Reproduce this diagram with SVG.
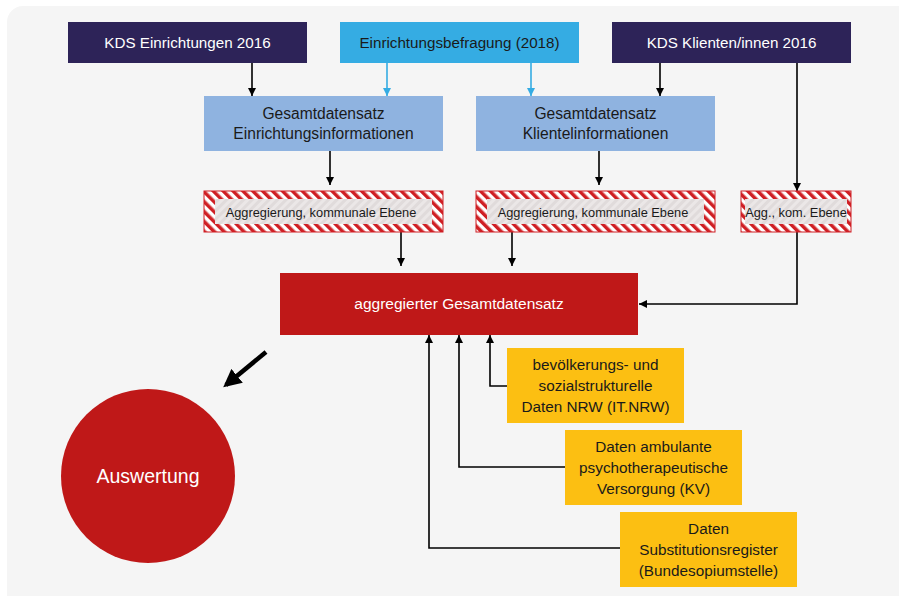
<svg xmlns="http://www.w3.org/2000/svg" width="899" height="596" viewBox="0 0 899 596">
<style>
text{font-family:"Liberation Sans",Arial,sans-serif;text-anchor:middle}
.t1{font-size:15.2px;fill:#ffffff}
.t2{font-size:15.2px;fill:#1a1a1a}
.t5{font-size:15.6px;fill:#1a1a1a}
.t3{font-size:12.8px;fill:#1a1a1a}
.t4{font-size:15.3px;fill:#1a1a1a}
.c{fill:none;stroke:#000;stroke-width:1.6}
.cb{fill:none;stroke:#35ace3;stroke-width:1.6}
</style>
<defs>
<pattern id="hatch" width="7" height="7" patternUnits="userSpaceOnUse" patternTransform="rotate(-45)">
<rect width="7" height="7" fill="#ffffff"/>
<rect width="3.5" height="7" fill="#cf1f24"/>
</pattern>
<pattern id="hatchIn" width="6" height="6" patternUnits="userSpaceOnUse" patternTransform="rotate(45)">
<rect width="6" height="6" fill="#ebe7e7"/>
<rect width="3" height="6" fill="#e0dbdb"/>
</pattern>
<marker id="ah" viewBox="0 0 10 10" refX="10" refY="5" markerWidth="5" markerHeight="5" orient="auto" markerUnits="strokeWidth">
<path d="M0,0 L10,5 L0,10 z" fill="#000"/>
</marker>
<marker id="ahb" viewBox="0 0 10 10" refX="10" refY="5" markerWidth="5" markerHeight="5" orient="auto" markerUnits="strokeWidth">
<path d="M0,0 L10,5 L0,10 z" fill="#35ace3"/>
</marker>
<marker id="ahbig" viewBox="0 0 10 10" refX="8" refY="5" markerWidth="4" markerHeight="4" orient="auto" markerUnits="strokeWidth">
<path d="M0,0 L10,5 L0,10 z" fill="#000"/>
</marker>
</defs>
<rect x="7" y="6" width="910" height="620" rx="16" fill="#f5f5f5"/>

<g id="connectors">
<line class="c" x1="252" y1="63" x2="252" y2="96" marker-end="url(#ah)"/>
<line class="cb" x1="387" y1="63" x2="387" y2="96" marker-end="url(#ahb)"/>
<line class="cb" x1="531" y1="63" x2="531" y2="96" marker-end="url(#ahb)"/>
<line class="c" x1="660" y1="63" x2="660" y2="96" marker-end="url(#ah)"/>
<line class="c" x1="797" y1="63" x2="797" y2="191" marker-end="url(#ah)"/>
<line class="c" x1="330" y1="151" x2="330" y2="185" marker-end="url(#ah)"/>
<line class="c" x1="599" y1="151" x2="599" y2="185" marker-end="url(#ah)"/>
<line class="c" x1="401" y1="232" x2="401" y2="266" marker-end="url(#ah)"/>
<line class="c" x1="512" y1="232" x2="512" y2="266" marker-end="url(#ah)"/>
<polyline class="c" points="797,232 797,304 639,304" marker-end="url(#ah)"/>
<polyline class="c" points="507,386 490,386 490,335" marker-end="url(#ah)"/>
<polyline class="c" points="565,467 459,467 459,335" marker-end="url(#ah)"/>
<polyline class="c" points="620,548 429,548 429,335" marker-end="url(#ah)"/>
<line x1="266" y1="352" x2="226" y2="385" stroke="#000" stroke-width="4.5" marker-end="url(#ahbig)"/>
</g>

<g id="kds-einrichtungen">
<rect x="68" y="22" width="239" height="41" fill="#2d2358"/>
<text class="t1" x="187.5" y="48">KDS Einrichtungen 2016</text>
</g>
<g id="einrichtungsbefragung">
<rect x="340" y="22" width="239" height="41" fill="#35ace3"/>
<text class="t2" x="459.5" y="48">Einrichtungsbefragung (2018)</text>
</g>
<g id="kds-klienten">
<rect x="612" y="22" width="239" height="41" fill="#2d2358"/>
<text class="t1" x="731.5" y="48">KDS Klienten/innen 2016</text>
</g>
<g id="gesamt-einrichtung">
<rect x="204" y="96" width="239" height="55" fill="#8fb3e0"/>
<text class="t5" x="323.5" y="119">Gesamtdatensatz</text>
<text class="t5" x="323.5" y="139">Einrichtungsinformationen</text>
</g>
<g id="gesamt-klientel">
<rect x="476" y="96" width="239" height="55" fill="#8fb3e0"/>
<text class="t5" x="595.5" y="119">Gesamtdatensatz</text>
<text class="t5" x="595.5" y="139">Klientelinformationen</text>
</g>
<g id="agg1">
<rect x="204" y="191" width="239" height="41" fill="url(#hatch)" stroke="#cf1f24" stroke-width="1"/>
<rect x="215" y="199" width="217" height="25" fill="url(#hatchIn)"/>
<text class="t3" x="321" y="217">Aggregierung, kommunale Ebene</text>
</g>
<g id="agg2">
<rect x="476" y="191" width="239" height="41" fill="url(#hatch)" stroke="#cf1f24" stroke-width="1"/>
<rect x="487" y="199" width="217" height="25" fill="url(#hatchIn)"/>
<text class="t3" x="593" y="217">Aggregierung, kommunale Ebene</text>
</g>
<g id="agg3">
<rect x="741" y="191" width="110" height="41" fill="url(#hatch)" stroke="#cf1f24" stroke-width="1"/>
<rect x="745" y="199" width="102" height="25" fill="url(#hatchIn)"/>
<text class="t3" x="796" y="217">Agg., kom. Ebene</text>
</g>
<g id="aggregierter">
<rect x="280" y="273" width="358" height="62" fill="#bf1818"/>
<text x="459" y="309" style="font-size:15.5px;fill:#ffffff">aggregierter Gesamtdatensatz</text>
</g>
<g id="bevoelkerung">
<rect x="507" y="348" width="177" height="75" fill="#fcbf12"/>
<text class="t4" x="595.5" y="370">bevölkerungs- und</text>
<text class="t4" x="595.5" y="391">sozialstrukturelle</text>
<text class="t4" x="595.5" y="412">Daten NRW (IT.NRW)</text>
</g>
<g id="ambulant">
<rect x="565" y="430" width="177" height="75" fill="#fcbf12"/>
<text class="t4" x="653.5" y="452">Daten ambulante</text>
<text class="t4" x="653.5" y="473">psychotherapeutische</text>
<text class="t4" x="653.5" y="494">Versorgung (KV)</text>
</g>
<g id="substitution">
<rect x="620" y="512" width="177" height="75" fill="#fcbf12"/>
<text class="t4" x="708.5" y="534">Daten</text>
<text class="t4" x="708.5" y="555">Substitutionsregister</text>
<text class="t4" x="708.5" y="576">(Bundesopiumstelle)</text>
</g>
<g id="auswertung">
<circle cx="148" cy="476" r="87" fill="#bf1818"/>
<text x="148" y="483" style="font-size:19.5px;fill:#ffffff">Auswertung</text>
</g>
</svg>
